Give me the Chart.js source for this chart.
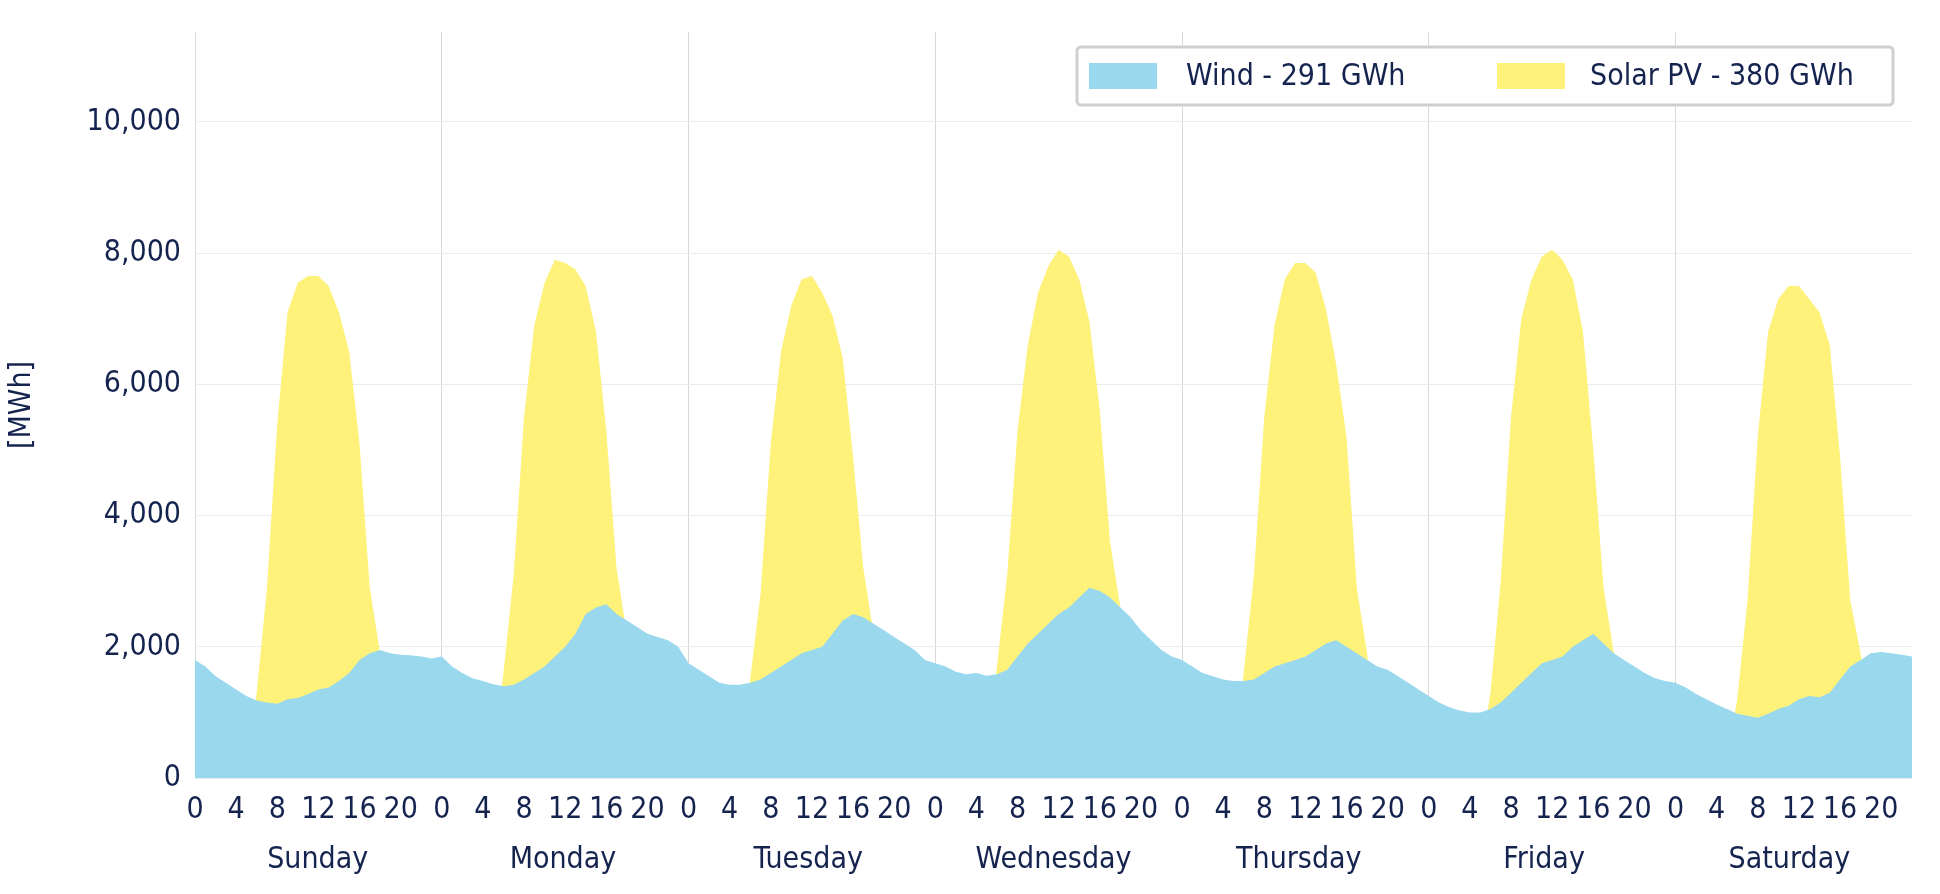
<!DOCTYPE html>
<html><head><meta charset="utf-8">
<script src="https://cdn.jsdelivr.net/npm/chart.js@4"></script>
<style>html,body{margin:0;background:#fff}#w{width:1940px;height:894px}</style>
</head><body><div id="w"><canvas id="c"></canvas></div>
<script>
const days=["Sunday","Monday","Tuesday","Wednesday","Thursday","Friday","Saturday"];
const hourTicks=[0,4,8,12,16,20];
const yTicks=[0,2000,4000,6000,8000,10000];
const windSun=[1800,1700,1550,1450,1350,1250,1180,1150,1130,1200,1220,1280,1350,1380,1480,1600,1800,1900,1950,1900,1880,1870,1850,1820];
const windMon=[1850,1700,1600,1520,1480,1430,1400,1420,1500,1600,1700,1850,2000,2200,2500,2600,2650,2500,2400,2300,2200,2150,2100,2000];
const windTue=[1750,1650,1550,1450,1420,1420,1450,1500,1600,1700,1800,1900,1950,2000,2200,2400,2500,2450,2350,2250,2150,2050,1950,1800];
const windWed=[1750,1700,1620,1580,1600,1560,1580,1650,1850,2050,2200,2350,2500,2600,2750,2900,2850,2750,2600,2450,2250,2100,1950,1850];
const windThu=[1800,1700,1600,1550,1500,1480,1480,1500,1600,1700,1750,1800,1850,1950,2050,2100,2000,1900,1800,1700,1650,1550,1450,1350];
const windFri=[1250,1150,1080,1030,1000,1000,1050,1150,1300,1450,1600,1750,1800,1850,2000,2100,2200,2050,1900,1800,1700,1600,1520,1480];
const windSat=[1450,1380,1280,1200,1120,1050,980,950,920,980,1050,1100,1200,1250,1230,1300,1500,1700,1800,1900,1920,1900,1880,1850];
const solarSun=[0,0,0,0,0,300,1300,2900,5400,7100,7550,7650,7650,7500,7100,6500,5100,2900,1900,600,0,0,0,0];
const solarMon=[0,0,0,0,0,300,1600,3100,5500,6900,7550,7900,7850,7750,7500,6800,5300,3200,2200,700,0,0,0,0];
const solarTue=[0,0,0,0,0,300,1500,2800,5100,6500,7200,7600,7650,7400,7050,6400,4900,3200,2200,700,0,0,0,0];
const solarWed=[0,0,0,0,0,300,1700,3100,5300,6600,7400,7800,8050,7950,7600,6950,5600,3600,2600,800,0,0,0,0];
const solarThu=[0,0,0,0,0,300,1600,3100,5500,6900,7600,7850,7850,7700,7150,6300,5200,2900,1900,600,0,0,0,0];
const solarFri=[0,0,0,0,0,300,1300,3000,5500,7000,7600,7950,8050,7900,7600,6800,5000,2900,1900,600,0,0,0,0];
const solarSat=[0,0,0,0,0,300,1200,2700,5200,6800,7300,7500,7500,7300,7100,6600,4900,2700,1900,600,0,0,0,0];
const wind=[].concat(windSun,windMon,windTue,windWed,windThu,windFri,windSat);
const solar=[].concat(solarSun,solarMon,solarTue,solarWed,solarThu,solarFri,solarSat);
const labels=wind.map((_,i)=>i);
const navy='#15234f';
const FONT='"DejaVu Sans Condensed", "DejaVu Sans", sans-serif';
Chart.defaults.font.family=FONT;
Chart.defaults.color=navy;
const legendPlugin={id:'legBox',afterDraw(ch){
  const ctx=ch.ctx;const ca=ch.chartArea;
  const x0=1077,y0=47,w=ca.right-19-x0,h=58;
  ctx.save();
  ctx.fillStyle='#fff';ctx.strokeStyle='#cfcfcf';ctx.lineWidth=3;
  ctx.beginPath();ctx.roundRect(x0,y0,w,h,4);ctx.fill();ctx.stroke();
  const ds=ch.data.datasets;
  const items=[[1089,1186],[1497,1590]];
  ctx.font='30px '+FONT;ctx.textBaseline='middle';
  ds.forEach((d,i)=>{ctx.fillStyle=d.backgroundColor;ctx.fillRect(items[i][0],y0+h/2-13,68,26);
    ctx.fillStyle=navy;ctx.fillText(d.label,items[i][1],y0+h/2+1);});
  ctx.restore();}};
new Chart(document.getElementById('c'),{
type:'line',
data:{labels,datasets:[
 {label:'Wind - 291 GWh',data:wind,fill:'origin',backgroundColor:'#9ad8ee',borderWidth:0,pointRadius:0,tension:0,order:1},
 {label:'Solar PV - 380 GWh',data:solar,fill:'origin',backgroundColor:'#fef27a',borderWidth:0,pointRadius:0,tension:0,order:2}
]},
options:{responsive:true,maintainAspectRatio:false,animation:false,
 layout:{padding:{left:0,right:28,top:27,bottom:16}},
 plugins:{tooltip:{enabled:false},legend:{display:false}},
 scales:{
  x:{type:'category',offset:false,afterFit:a=>{a.height=50;},grid:{color:c=>(c.index%24===0)?'#d8d8d8':'rgba(0,0,0,0)',drawTicks:false},border:{display:false},
     ticks:{autoSkip:false,maxRotation:0,font:{size:30},padding:14,callback:function(v,i){const h=i%24;return hourTicks.includes(h)?String(h):'';}}},
  x2:{type:'category',labels:days,offset:true,afterFit:a=>{a.height=50;},grid:{display:false},border:{display:false},ticks:{font:{size:30},padding:6}},
  y:{min:0,max:11370,afterFit:a=>{a.width=195;},grid:{color:c=>c.tick.value%2000===0?'#ececec':'rgba(0,0,0,0)',drawTicks:false},border:{display:false},
     title:{display:true,text:'[MWh]',font:{size:30},padding:{bottom:8}},
     afterBuildTicks:ax=>{ax.ticks=yTicks.map(v=>({value:v}));},
     ticks:{font:{size:30},padding:14,callback:v=>v.toLocaleString('en-US')}}
 }
},
plugins:[legendPlugin]
});
</script></body></html>
